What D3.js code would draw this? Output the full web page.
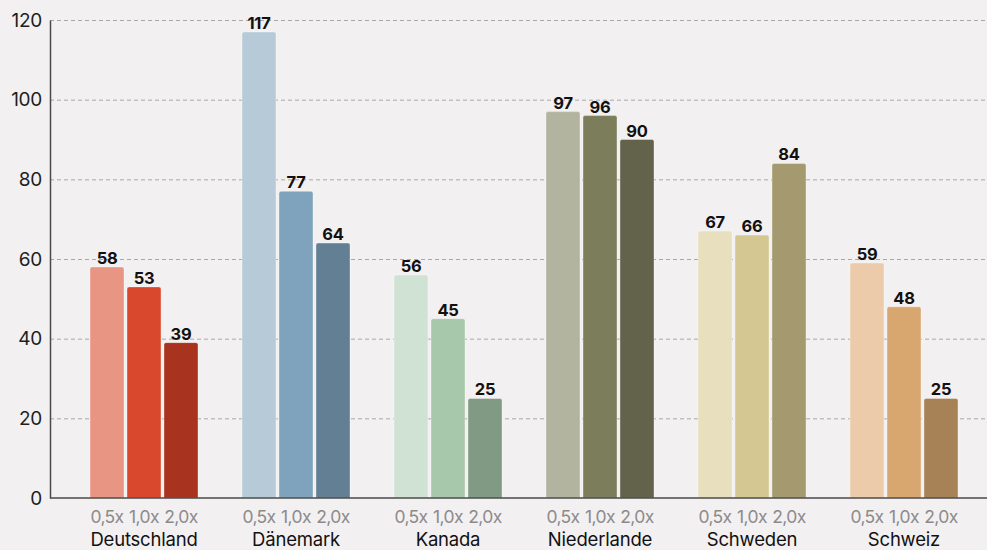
<!DOCTYPE html>
<html>
<head>
<meta charset="utf-8">
<script src="https://cdn.jsdelivr.net/npm/d3@7"></script>
<style>
  html, body { margin: 0; padding: 0; background: #f2f0f1; }
  svg { display: block; font-family: Inter, "Liberation Sans", Arial, sans-serif; }
</style>
</head>
<body>
<svg id="chart" width="987" height="550"></svg>
<script>
// Länder und Szenarien
const countries = ["Deutschland", "Dänemark", "Kanada", "Niederlande", "Schweden", "Schweiz"];
const scenarios = ["0,5x", "1,0x", "2,0x"];

// Werte je Land (0,5x / 1,0x / 2,0x)
const valuesDeutschland = [58, 53, 39];
const valuesDaenemark   = [117, 77, 64];
const valuesKanada      = [56, 45, 25];
const valuesNiederlande = [97, 96, 90];
const valuesSchweden    = [67, 66, 84];
const valuesSchweiz     = [59, 48, 25];

// Farbpaletten je Land
const colorsDeutschland = ["#e89583", "#d9482c", "#a8331f"];
const colorsDaenemark   = ["#b6cbd7", "#7fa3bc", "#637f93"];
const colorsKanada      = ["#d0e2d3", "#a8c8ab", "#819a84"];
const colorsNiederlande = ["#b2b4a0", "#7c7d5b", "#62634a"];
const colorsSchweden    = ["#e7dfbe", "#d4c792", "#a59a6f"];
const colorsSchweiz     = ["#eccbab", "#d8a770", "#a88257"];

const yTicks = [0, 20, 40, 60, 80, 100, 120];

const values = [valuesDeutschland, valuesDaenemark, valuesKanada, valuesNiederlande, valuesSchweden, valuesSchweiz];
const colors = [colorsDeutschland, colorsDaenemark, colorsKanada, colorsNiederlande, colorsSchweden, colorsSchweiz];

const data = countries.map((c, i) => ({
  country: c,
  bars: scenarios.map((s, j) => ({ scenario: s, value: values[i][j], color: colors[i][j] }))
}));

const svg = d3.select("#chart");
const axisLeft = 50, plotRight = 987, plotTop = 20, plotBottom = 498;

const y = d3.scaleLinear().domain([0, 120]).range([plotBottom, plotTop]);

const x0 = d3.scaleBand()
  .domain(countries)
  .range([68, 980])
  .paddingInner(0.2895)
  .paddingOuter(0.2895 / 2);

const x1 = d3.scaleBand()
  .domain(scenarios)
  .range([0, x0.bandwidth()])
  .paddingInner(3 / 37)
  .paddingOuter(0);

// Gitterlinien
svg.append("g")
  .selectAll("line")
  .data(yTicks.filter(t => t > 0))
  .join("line")
  .attr("x1", axisLeft)
  .attr("x2", plotRight)
  .attr("y1", d => y(d) + 0.5)
  .attr("y2", d => y(d) + 0.5)
  .attr("stroke", "#a9a7a8")
  .attr("stroke-width", 1)
  .attr("stroke-dasharray", "4,3");

// Y-Achse
const yAxis = d3.axisLeft(y).tickValues(yTicks).tickSize(0).tickPadding(8);
const gy = svg.append("g")
  .attr("transform", `translate(${axisLeft},0)`)
  .call(yAxis);
gy.select(".domain").attr("stroke", "#4a4a4a").attr("stroke-width", 1.5);
gy.selectAll("text")
  .attr("font-size", 19)
  .attr("fill", "#1e1e1e")
  .attr("letter-spacing", -0.3)
  .attr("font-family", "Inter, 'Liberation Sans', Arial, sans-serif");

// Balken
const groups = svg.append("g")
  .selectAll("g")
  .data(data)
  .join("g")
  .attr("transform", d => `translate(${x0(d.country)},0)`);

groups.selectAll("path")
  .data(d => d.bars)
  .join("path")
  .attr("d", d => {
    const bx = x1(d.scenario), bw = x1.bandwidth();
    const top = y(d.value), bottom = y(0), r = 2;
    return `M${bx},${bottom}V${top + r}Q${bx},${top} ${bx + r},${top}H${bx + bw - r}Q${bx + bw},${top} ${bx + bw},${top + r}V${bottom}Z`;
  })
  .attr("fill", d => d.color)
  .attr("stroke", "rgba(255,255,255,0.35)")
  .attr("stroke-width", 1);

// Wertbeschriftungen
groups.selectAll("text.val")
  .data(d => d.bars)
  .join("text")
  .attr("class", "val")
  .attr("x", d => x1(d.scenario) + x1.bandwidth() / 2)
  .attr("y", d => y(d.value) - 3)
  .attr("text-anchor", "middle")
  .attr("font-size", 16.5)
  .attr("font-weight", 700)
  .attr("letter-spacing", -0.3)
  .attr("fill", "#111")
  .text(d => d.value);

// Szenario-Beschriftungen
groups.selectAll("text.sc")
  .data(d => d.bars)
  .join("text")
  .attr("class", "sc")
  .attr("x", d => x1(d.scenario) + x1.bandwidth() / 2)
  .attr("y", 523)
  .attr("text-anchor", "middle")
  .attr("font-size", 17.5)
  .attr("letter-spacing", -0.6)
  .attr("fill", "#8c8a8b")
  .text(d => d.scenario);

// Ländernamen
groups.append("text")
  .attr("x", x0.bandwidth() / 2)
  .attr("y", 546)
  .attr("text-anchor", "middle")
  .attr("font-size", 18.5)
  .attr("letter-spacing", -0.2)
  .attr("fill", "#111")
  .text(d => d.country);

// X-Grundlinie
svg.append("line")
  .attr("x1", axisLeft)
  .attr("x2", plotRight)
  .attr("y1", plotBottom)
  .attr("y2", plotBottom)
  .attr("stroke", "#4a4a4a")
  .attr("stroke-width", 1.5);
</script>
</body>
</html>
